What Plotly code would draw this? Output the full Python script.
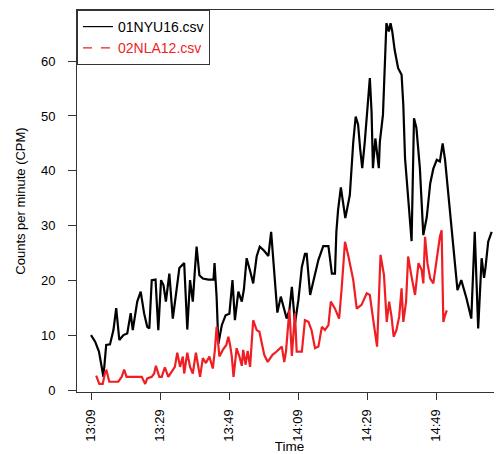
import pandas as pd
import plotly.graph_objects as go

# minutes after 13:09 and counts per minute
black_min = [0, 1.2, 2.3, 3.6, 4.4, 5.5, 6.5, 7.3, 8.2, 9.4, 10.5, 11.5, 12.1, 12.8, 13.4, 14.4,
             15.4, 16.3, 16.9, 17.6, 18.7, 19.5, 20.3, 21.0, 21.7, 22.7, 23.7, 24.6, 25.6, 27.0,
             27.9, 28.7, 29.5, 30.1, 30.6, 31.4, 32.4, 34.0, 35.5, 35.8, 36.4, 36.9, 37.9, 39.0,
             40.1, 41.0, 41.7, 42.7, 43.7, 44.3, 45.1, 46.3, 47.0, 48.0, 48.9, 50.1, 51.4, 52.2,
             52.8, 54.0, 55.0, 55.7, 56.7, 57.5, 58.2, 59.1, 60.1, 61.1, 62.0, 62.5, 63.5, 64.5,
             65.9, 67.3, 68.8, 69.8, 70.7, 71.1, 71.6, 72.4, 73.7, 75.0, 76.0, 76.7, 77.4, 78.0,
             78.6, 79.3, 79.8, 80.8, 81.3, 81.7, 82.4, 82.9, 83.4, 83.7, 84.6, 85.6, 86.3, 86.8,
             87.3, 88.0, 89.0, 90.0, 90.5, 91.0, 92.0, 92.9, 93.6, 94.3, 95.3, 96.3, 97.3, 98.3,
             99.2, 100.2, 101.1, 101.9, 102.6, 103.6, 104.5, 105.3, 106.2, 107.3, 108.8, 110.2,
             111.2, 112.2, 113.2, 113.9, 114.3, 115.1, 116.1]
black_cpm = [10.1, 8.9, 7.1, 2.5, 8.3, 8.4, 11, 15, 9.2, 10.1, 10.4, 14.1, 11, 13.7, 16.2, 18,
             14, 11.6, 11.3, 20.1, 20.2, 11, 20.1, 19.2, 16.2, 21.3, 13.1, 17.4, 22.3, 23.2,
             11.1, 20.1, 16.2, 21.9, 26.2, 21, 20.4, 20.2, 20.2, 23.2, 17, 8.5, 11.9, 13.7,
             14, 20.1, 12.8, 18, 16.2, 18.4, 24.1, 21.3, 19.5, 24.4, 26.2, 25.5, 24.5, 28.9,
             23.5, 14.2, 17.1, 15.3, 13.1, 14.7, 18.9, 12.2, 16.5, 22.5, 24.9, 24.9, 17.4, 20.1,
             23.8, 26.3, 26.3, 21.3, 21.3, 28.9, 32.9, 37, 31.4, 35.6, 45.3, 49.9, 48.4, 44,
             40.5, 45, 49.6, 56.9, 50.8, 40.5, 45.9, 43.5, 40.5, 45.3, 50.2, 66.9, 65.4, 66.9,
             65.4, 62, 58.7, 57.5, 52, 42.3, 34.4, 27.2, 49.6, 47.8, 40.5, 28.3, 31.6, 37.7,
             40.4, 42, 41.7, 45, 42, 35.3, 29.5, 24, 18.3, 20.1, 16.8, 13.1,
             28.9, 11.3, 24.1, 20.5, 22.3, 27.1, 28.9]

red_min = [1.5, 2.4, 3.4, 4.1, 4.5, 5.3, 6.5, 7.9, 8.9, 9.6, 10.3, 11.8, 13.2, 14.7, 15.7, 16.3,
           17.6, 18.3, 18.8, 19.8, 20.5, 21.4, 22.4, 23.4, 24.3, 25.0, 25.8, 26.6, 27.0, 27.9,
           28.7, 29.5, 30.4, 31.1, 31.6, 32.4, 33.3, 34.3, 35.3, 35.9, 36.4, 37.2, 38.2, 39.2,
           39.8, 40.3, 40.8, 41.3, 41.7, 42.2, 43.0, 43.7, 44.1, 44.8, 45.4, 46.1, 47.0, 48.0,
           48.8, 49.5, 50.2, 51.2, 52.6, 53.8, 55.3, 56.0, 56.5, 57.5, 58.2, 59.1, 59.6, 61.1,
           62.0, 63.0, 63.9, 64.9, 65.9, 66.9, 67.8, 68.8, 69.5, 70.7, 71.9, 72.6, 73.6, 74.6,
           76.0, 77.0, 78.4, 79.9, 80.8, 81.8, 82.9, 83.9, 84.9, 85.7, 86.4, 87.1, 87.7, 88.5,
           89.3, 90.0, 90.5, 91.3, 91.9, 92.9, 93.9, 94.9, 95.8, 96.3, 96.8, 97.5, 98.3, 99.2,
           100.2, 101.1, 101.6, 102.1, 102.6, 103.1]
red_cpm = [2.7, 1.2, 1.2, 3.4, 3.6, 1.6, 1.6, 1.6, 2.5, 3.8, 2.5, 2.5, 2.5, 2.5, 1.2, 2.2,
           2.5, 3.1, 4.5, 2.5, 2.5, 4.2, 2.5, 3.4, 4.3, 6.9, 4.3, 6.2, 3.1, 6.9,
           4.3, 3.1, 6.9, 4.3, 2.5, 5.9, 5.0, 6.2, 4.0, 7.4, 11.6, 6.2, 7.4, 8.3,
           9.8, 8.3, 6.2, 2.5, 5.2, 7.7, 6.2, 4.5, 7.4, 4.7, 7.2, 4.3, 12.8, 11,
           10.7, 8.5, 6.5, 5.2, 6.5, 7.1, 8.0, 5.2, 7.1, 14.8, 6.3, 14.1, 7.1, 7.1,
           12.8, 12.5, 11, 7.7, 8.0, 11.6, 11, 11.9, 16.2, 14.9, 13.1, 18.3, 27.1, 24.4,
           20.1, 14.9, 15.6, 17.7, 17.4, 12.8, 8.0, 24.7, 21, 12.5, 16.2, 13.4, 9.8, 11,
           13.4, 18.6, 12.5, 16.2, 24.4, 20.7, 17.4, 23.2, 22, 19.5, 28, 23.2, 20.4, 19.5,
           24.4, 28, 29.2, 12.5, 13.7, 14.6]

tick_labels = ["13:09", "13:29", "13:49", "14:09", "14:29", "14:49"]
y_ticks = [0, 10, 20, 30, 40, 50, 60]
names = ["01NYU16.csv", "02NLA12.csv"]

base = pd.Timestamp("2020-01-01 13:09")
def to_time(mins):
    return [base + pd.Timedelta(minutes=m) for m in mins]

tick_vals = [pd.Timestamp("2020-01-01 " + t) for t in tick_labels]

FONT = "Liberation Sans, Arial, sans-serif"
RED = "#f01e23"
AX = "#333333"

fig = go.Figure()
fig.add_trace(go.Scatter(x=to_time(black_min), y=black_cpm, mode="lines",
                         line=dict(color="black", width=2.2), showlegend=False))
fig.add_trace(go.Scatter(x=to_time(red_min), y=red_cpm, mode="lines",
                         line=dict(color=RED, width=2.2), showlegend=False))
# legend entries
fig.add_trace(go.Scatter(x=[None], y=[None], mode="lines", name=names[0],
                         line=dict(color="black", width=1.2)))
fig.add_trace(go.Scatter(x=[None], y=[None], mode="lines",
                         name='<span style="color:%s">%s</span>' % (RED, names[1]),
                         line=dict(color=RED, width=1.2, dash="dash")))

# page body has an 8px default margin, so the figure is 8px smaller than the window
fig.update_layout(
    width=494, height=446,
    margin=dict(l=69, r=0, t=2, b=62),
    paper_bgcolor="white", plot_bgcolor="white",
    font=dict(family=FONT, size=13, color="black"),
    showlegend=True,
    legend=dict(x=0, y=1, xanchor="left", yanchor="top",
                bordercolor=AX, borderwidth=1, bgcolor="white",
                font=dict(size=14, family=FONT), tracegroupgap=0,
                itemwidth=30),
    xaxis=dict(
        type="date",
        range=[base - pd.Timedelta(minutes=4.06), base + pd.Timedelta(minutes=119.1)],
        tickvals=tick_vals, ticktext=tick_labels, tickangle=-90,
        ticks="outside", ticklen=7, tickcolor=AX, tickwidth=1,
        showline=True, linecolor=AX, linewidth=1, mirror=True,
        showgrid=False, zeroline=False,
        ticklabelstandoff=4,
        title=dict(text="Time", standoff=2, font=dict(size=13.5)),
        tickfont=dict(size=13),
    ),
    yaxis=dict(
        range=[-0.27, 69.3],
        tickvals=y_ticks, ticks="outside", ticklen=8, tickcolor=AX, tickwidth=1,
        showline=True, linecolor=AX, linewidth=1,
        showgrid=False, zeroline=False,
        ticklabelstandoff=10,
        title=dict(text="Counts per minute (CPM)", standoff=12, font=dict(size=13)),
        tickfont=dict(size=13),
    ),
)

fig.write_html("out.html")
